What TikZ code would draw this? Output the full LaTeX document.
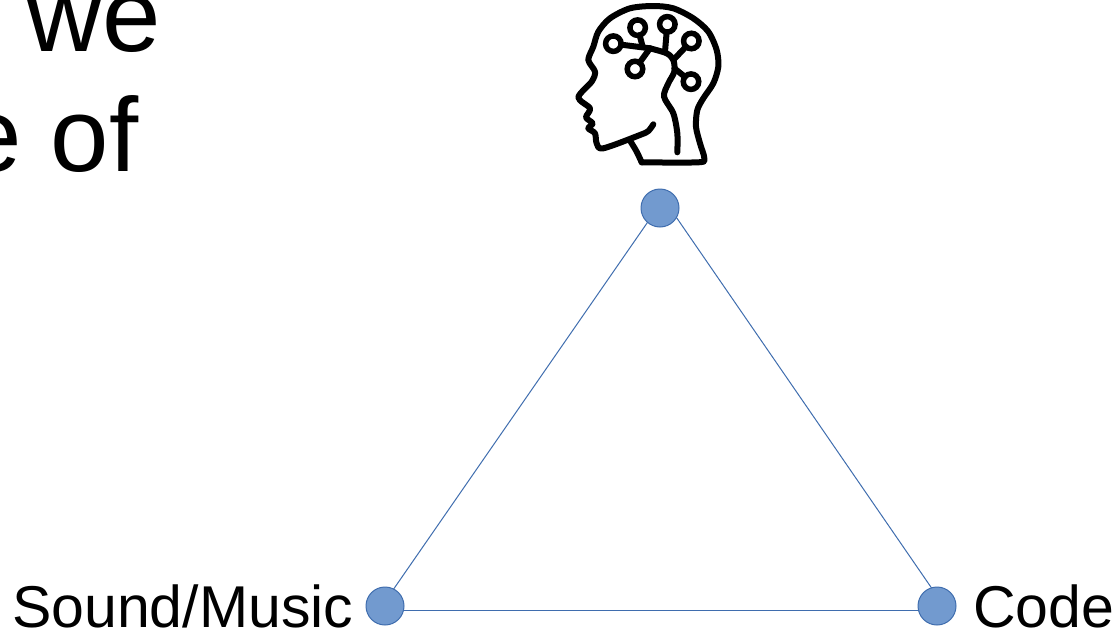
\documentclass[tikz,border=0pt]{standalone}
\usepackage{fontspec}
\setmainfont{Liberation Sans}

\tikzset{
  dot/.style={circle,draw=dotline,fill=dotfill,line width=1pt,minimum size=38pt,inner sep=0pt,outer sep=0pt},
  edgeline/.style={draw=dotline,line width=1pt},
  bigtext/.style={anchor=base west,inner sep=0pt,font=\fontsize{105}{120}\selectfont},
  midtext/.style={anchor=base west,inner sep=0pt,font=\fontsize{59}{70}\selectfont},
  brainline/.style={line width=6pt,line cap=round,line join=round},
  brainring/.style={circle,draw,line width=5.5pt,minimum size=15.5pt,inner sep=0pt,outer sep=0pt}
}
\definecolor{dotfill}{HTML}{729ACF}
\definecolor{dotline}{HTML}{3F6DAE}

\begin{document}
\begin{tikzpicture}
[
  x=1pt,
  y=-1pt
]
\useasboundingbox (0,0) rectangle (1120,632);

\node[bigtext] (we) at (26,51) {we};
\node[bigtext] (of) at (-37,171) {e of};

\node[dot] (top) at (660,208) {};
\node[dot] (sound) at (385,606) {};
\node[dot] (code) at (937,606) {};

\node[midtext] (soundlabel) at (12,627) {Sound/Music};
\node[midtext] (codelabel) at (973,627) {Code};

\draw[edgeline] (top.229) -- (sound.63);
\draw[edgeline] (top.-30) -- (code.107);
\draw[edgeline] (sound.-14) -- (code.194);

% head icon, coordinates at 3x
\begin{scope}[shift={(560,0)},x=0.3333pt,y=-0.3333pt]
\node[brainring] (ringa) at (160,131) {};
\node[brainring] (ringb) at (233,83) {};
\node[brainring] (ringc) at (322,73) {};
\node[brainring] (ringd) at (394,123) {};
\node[brainring] (ringe) at (393,245) {};
\node[brainring] (ringf) at (225,207) {};

\draw[brainline] plot[smooth,tension=0.5] coordinates {
  (245,487) (415,487) (433,475) (420,430) (408,380) (412,330) (430,295) (460,250)
  (475,200) (470,150) (445,95) (400,55) (340,25) (280,18) (210,25) (150,55)
  (115,95) (100,140) (85,180) (105,215) (95,245) (55,292) (90,325) (78,352)
  (98,370) (85,385) (105,400) (110,430) (130,445) (240,405) (265,393) (280,373)};
\draw[brainline] plot[smooth,tension=0.5] coordinates {(212,425) (230,455) (245,487)};
\draw[brainline] plot[smooth,tension=0.5] coordinates {
  (352,457) (352,400) (340,340) (312,290) (325,250) (343,215) (340,180) (320,160) (270,145)};

\draw[brainline] (ringa) -- (270,145);
\draw[brainline] (ringb) -- (248,140);
\draw[brainline] (ringc) -- (315,155);
\draw[brainline] (ringd) -- (340,180);
\draw[brainline] (ringe) -- (343,205);
\draw[brainline] (ringf) -- (270,145);
\end{scope}
\end{tikzpicture}
\end{document}
